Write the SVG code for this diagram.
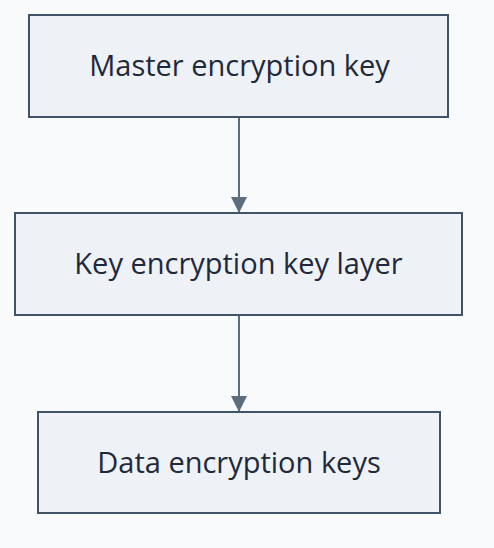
<svg xmlns="http://www.w3.org/2000/svg" width="494" height="548" viewBox="0 0 494 548">
<style>
.box{fill:#eef2f6;stroke:#3f5466;stroke-width:2}
.lbl{font-family:"Open Sans","Noto Sans",sans-serif;font-size:29px;fill:#1e293b;text-anchor:middle}
.edge{stroke:#5b6e80;stroke-width:2;fill:none}
</style>
<defs>
<marker id="arr" markerWidth="16" markerHeight="16" refX="16" refY="8" orient="auto" markerUnits="userSpaceOnUse">
<path d="M0,0 L16,8 L0,16 Z" fill="#5b6e80"/>
</marker>
</defs>
<rect width="494" height="548" fill="#f8fafc"/>
<g id="connectors">
<line class="edge" x1="239" y1="117" x2="239" y2="213" marker-end="url(#arr)"/>
<line class="edge" x1="239" y1="315" x2="239" y2="412" marker-end="url(#arr)"/>
</g>
<g id="master">
<rect class="box" x="29" y="15" width="419" height="102"/>
<text class="lbl" x="239.5" y="76">Master encryption key</text>
</g>
<g id="kek">
<rect class="box" x="15" y="213" width="447" height="102"/>
<text class="lbl" x="238.5" y="274">Key encryption key layer</text>
</g>
<g id="dek">
<rect class="box" x="38" y="412" width="402" height="101"/>
<text class="lbl" x="239" y="473">Data encryption keys</text>
</g>
</svg>
